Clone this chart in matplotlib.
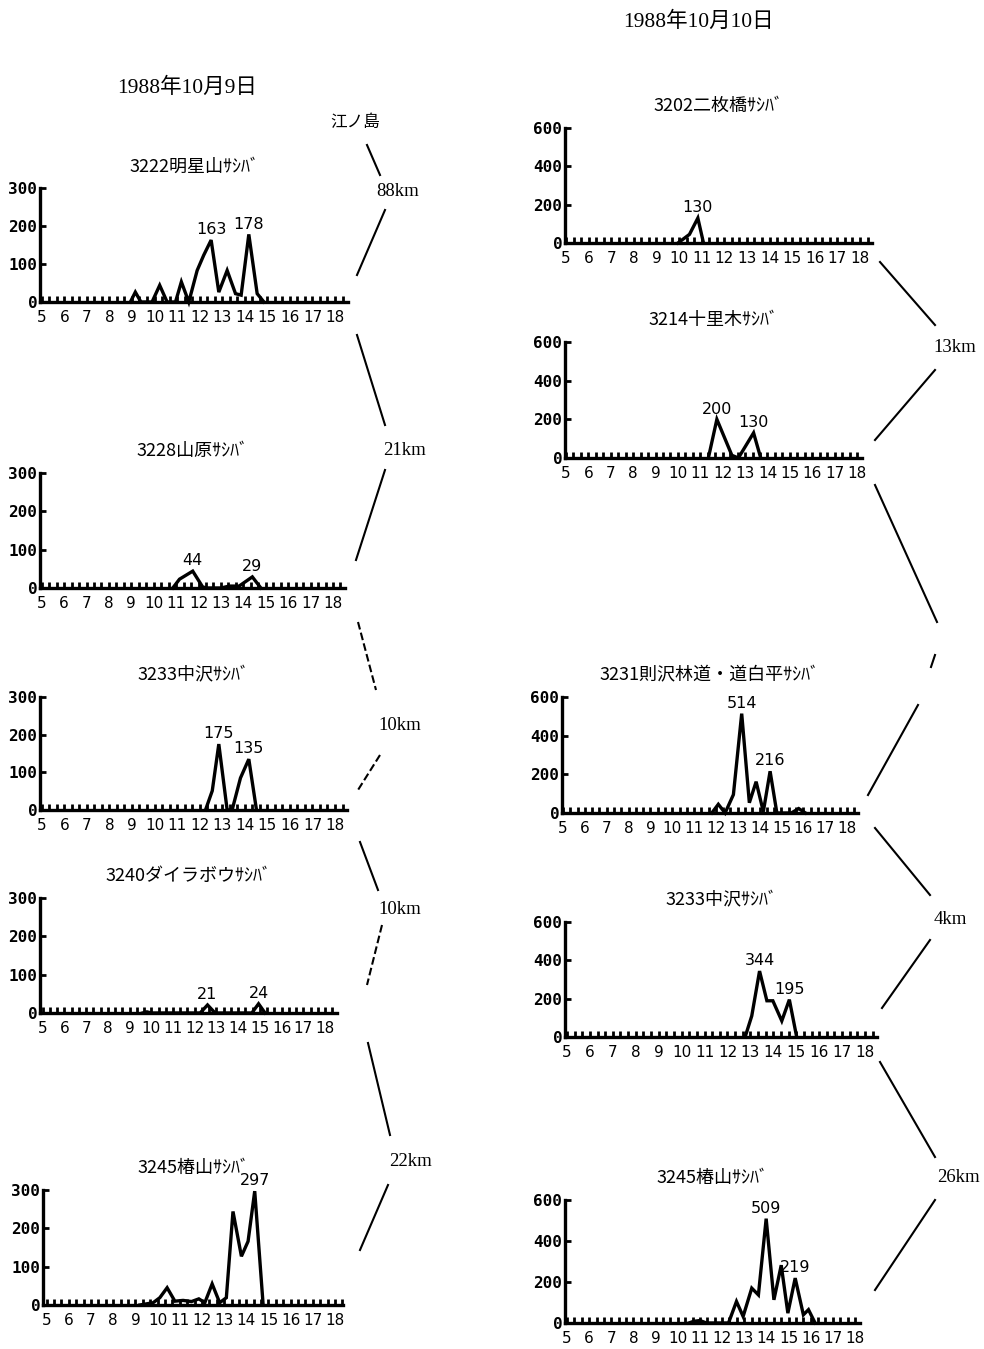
import matplotlib
matplotlib.use("Agg")
import matplotlib.pyplot as plt
from matplotlib.lines import Line2D
import numpy as np

plt.rcParams['font.family'] = ['DejaVu Sans', 'Noto Sans CJK JP']

# --- data: time of day (hours) and counts of サシバ ---
# 1988-10-09
t_3222 = [8.93, 9.15, 9.4, 9.89, 10.23, 10.56, 10.93, 11.19, 11.52, 11.89, 12.18, 12.51,
          12.85, 13.22, 13.59, 13.84, 14.18, 14.55, 14.85]
n_3222 = [0, 26, 0, 0, 44, 0, 0, 53, 0, 83, 123, 163, 26, 83, 22, 18, 178, 22, 0]
t_3228 = [10.85, 11.15, 11.74, 12.18, 12.35, 13.0, 13.37, 13.81, 14.4, 14.78]
n_3228 = [0, 23, 44, 3, 0, 0, 5, 5, 29, 0]
t_3233a = [12.26, 12.56, 12.85, 13.22, 13.44, 13.81, 14.18, 14.52]
n_3233a = [0, 51, 175, 0, 0, 85, 135, 0]
t_3240 = [9.6, 9.8, 10.0, 12.25, 12.59, 12.94, 14.63, 14.94, 15.24]
n_3240 = [0, 3, 0, 0, 21, 0, 0, 24, 0]
t_3245a = [9.2, 9.8, 10.1, 10.43, 10.78, 11.15, 11.53, 11.86, 12.13, 12.46, 12.8, 13.1,
           13.4, 13.78, 14.08, 14.38, 14.76]
n_3245a = [0, 6, 19, 45, 10, 12, 9, 16, 6, 55, 6, 19, 244, 127, 166, 297, 0]

# 1988-10-10
t_3202 = [9.95, 10.46, 10.83, 11.08]
n_3202 = [0, 45, 130, 0]
t_3214 = [11.36, 11.74, 12.41, 12.7, 13.38, 13.7]
n_3214 = [0, 200, 14, 0, 130, 0]
t_3231 = [11.81, 12.11, 12.42, 12.8, 13.18, 13.53, 13.84, 14.17, 14.48, 14.79, 15.45,
          15.79, 16.1]
n_3231 = [0, 45, 0, 95, 514, 53, 162, 7, 216, 0, 0, 23, 0]
t_3233b = [12.77, 13.06, 13.4, 13.72, 13.98, 14.37, 14.7, 15.02]
n_3233b = [0, 110, 344, 189, 189, 84, 195, 0]
t_3245b = [10.5, 10.71, 11.0, 11.3, 12.29, 12.65, 12.95, 13.34, 13.64, 13.99, 14.34,
           14.67, 14.97, 15.3, 15.67, 15.9, 16.2]
n_3245b = [0, 8, 12, 0, 0, 105, 32, 170, 137, 509, 113, 282, 48, 219, 40, 65, 0]

titles_left = ['3222明星山ｻｼﾊﾞ', '3228山原ｻｼﾊﾞ', '3233中沢ｻｼﾊﾞ', '3240ダイラボウｻｼﾊﾞ', '3245椿山ｻｼﾊﾞ']
titles_right = ['3202二枚橋ｻｼﾊﾞ', '3214十里木ｻｼﾊﾞ', '3231則沢林道・道白平ｻｼﾊﾞ', '3233中沢ｻｼﾊﾞ', '3245椿山ｻｼﾊﾞ']
peaks_left = [[163, 178], [44, 29], [175, 135], [21, 24], [297]]
peaks_right = [[130], [200, 130], [514, 216], [344, 195], [509, 219]]
hours = list(range(5, 19))

W, H = 984, 1349
fig = plt.figure(figsize=(W / 100, H / 100), dpi=100)


def add_panel(box, t, n, ymax, title, peaks):
    # box: axes left/right/top/bottom in px, plus px of the "5" and "18" labels
    x0, x1, top, bot, p5, p18 = box
    scale = (p18 - p5) / 13.0
    ax = fig.add_axes([x0 / W, 1 - bot / H, (x1 - x0) / W, (bot - top) / H])
    ax.plot(t, n, color='black', lw=2.4, clip_on=False, solid_joinstyle='miter')
    ax.set_xlim(5 - (p5 - x0) / scale, 5 + (x1 - p5) / scale)
    ax.set_ylim(0, ymax)
    for s in ['top', 'right']:
        ax.spines[s].set_visible(False)
    for s in ['left', 'bottom']:
        ax.spines[s].set_linewidth(2.4)
    ax.set_xticks(hours)
    ax.set_xticklabels([str(h) for h in hours], fontsize=11)
    ax.set_xticks(np.arange(5, ax.get_xlim()[1], 1 / 3), minor=True)
    ax.tick_params(axis='x', which='both', direction='in', length=4, width=2, pad=6)
    ax.set_yticks(np.linspace(0, ymax, 4))
    ax.set_yticklabels([str(int(v)) for v in np.linspace(0, ymax, 4)],
                       fontsize=11.5, fontweight='bold', family='DejaVu Sans Mono')
    ax.tick_params(axis='y', direction='in', length=4, width=2, pad=2)
    ax.set_title(title, fontsize=13, pad=12, family=['Noto Sans CJK JP', 'DejaVu Sans'])
    for v in peaks:
        i = n.index(v)
        ax.annotate(str(v), (t[i], n[i]), xytext=(0, 2), textcoords='offset points',
                    ha='center', va='bottom', fontsize=11.5)
    return ax


left_boxes = [(40, 348, 188, 302, 41.7, 335), (40, 345, 473, 588, 41.7, 333),
              (40, 347, 697, 810, 41.7, 335), (40, 337, 898, 1013, 42.7, 325),
              (43, 343, 1190, 1305, 46.7, 335)]
right_boxes = [(565, 872, 128, 243, 566, 860), (565, 862, 342, 458, 566, 857),
               (562, 858, 697, 813, 563, 847), (565, 877, 922, 1037, 567, 865),
               (565, 860, 1200, 1323, 567, 855)]
left_data = [(t_3222, n_3222), (t_3228, n_3228), (t_3233a, n_3233a), (t_3240, n_3240), (t_3245a, n_3245a)]
right_data = [(t_3202, n_3202), (t_3214, n_3214), (t_3231, n_3231), (t_3233b, n_3233b), (t_3245b, n_3245b)]

for box, (t, n), title, pk in zip(left_boxes, left_data, titles_left, peaks_left):
    add_panel(box, t, n, 300, title, pk)
for box, (t, n), title, pk in zip(right_boxes, right_data, titles_right, peaks_right):
    add_panel(box, t, n, 600, title, pk)

# headers
hdr = dict(ha='center', va='center', family=['Liberation Serif', 'Noto Sans CJK JP'])
fig.text(187 / W, 1 - 88 / H, '1988年10月9日', fontsize=15.5, **hdr)
fig.text(698 / W, 1 - 22 / H, '1988年10月10日', fontsize=15.5, **hdr)
fig.text(355 / W, 1 - 123 / H, '江ノ島', fontsize=12, **hdr)


def seg(p, q, ls='-'):
    fig.add_artist(Line2D([p[0] / W, q[0] / W], [1 - p[1] / H, 1 - q[1] / H],
                          color='black', lw=1.5, ls=ls))


def km(x, y, s):
    fig.text(x / W, 1 - y / H, s, ha='center', va='center', fontsize=13.5,
             family='Liberation Serif')


# distances between stations (left column)
seg((367, 145), (380, 175)); km(398, 192, '88km'); seg((385, 210), (357, 275))
seg((357, 335), (385, 425)); km(405, 450, '21km'); seg((385, 470), (356, 560))
seg((358, 622), (376, 690), '--'); km(400, 725, '10km'); seg((380, 755), (358, 790), '--')
seg((360, 842), (378, 890)); km(400, 910, '10km'); seg((382, 925), (367, 985), '--')
seg((368, 1043), (390, 1135)); km(410, 1162, '22km'); seg((388, 1185), (360, 1250))

# right column
seg((880, 262), (935, 325)); km(955, 347, '13km'); seg((935, 370), (875, 440))
seg((875, 485), (937, 622)); seg((935, 655), (931, 667)); seg((918, 705), (868, 795))
seg((875, 828), (930, 895)); km(950, 920, '4km'); seg((930, 940), (882, 1008))
seg((880, 1062), (935, 1157)); km(958, 1178, '26km'); seg((935, 1200), (875, 1290))

fig.savefig('out.png', dpi=100)
